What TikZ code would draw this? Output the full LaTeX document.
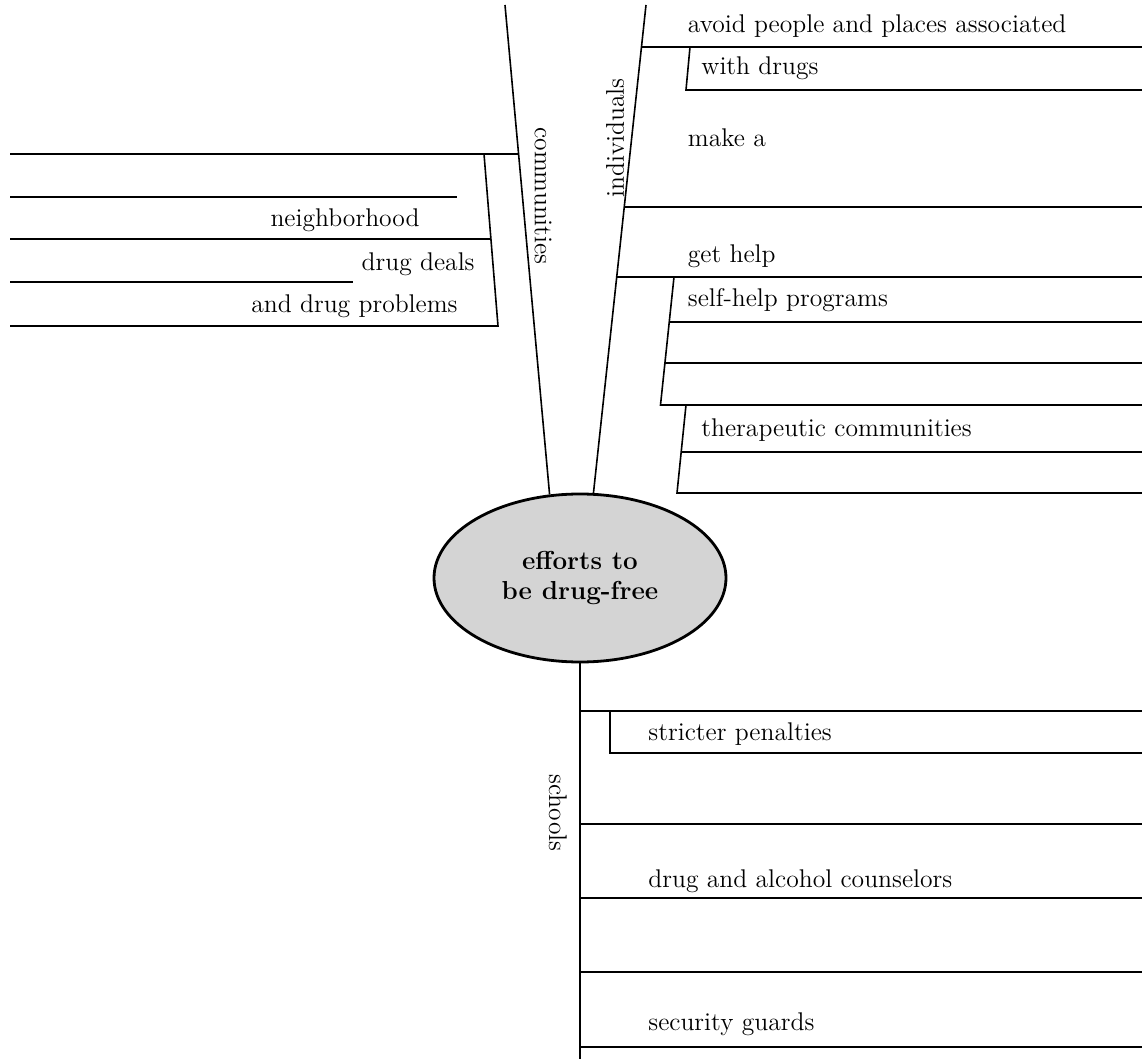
\documentclass[tikz,border=0pt]{standalone}
\usetikzlibrary{shapes.geometric}
\begin{document}
\begin{tikzpicture}[x=0.5pt,y=-0.5pt,
  ln/.style={line width=0.8pt},
  txt/.style={font=\fontsize{12.8}{15}\selectfont, inner sep=0pt},
  rtxt/.style={txt, anchor=base west},
  ltxt/.style={txt, anchor=base east},
  hubstyle/.style={ellipse, draw, line width=1.4pt, fill=black!17,
    minimum width=146pt, minimum height=84pt, inner sep=0pt, align=center,
    font=\bfseries\fontsize{13}{15}\selectfont}]
\useasboundingbox (0,0) rectangle (1142,1059);

% central ellipse
\node[hubstyle] (hub) at (580,578) {efforts to\\be drug-free};

% main spokes
\coordinate (ctop) at (505,5);
\coordinate (itop) at (646,5);
\coordinate (sbot) at (580,1059);
\draw[ln] (hub.110) -- (ctop);
\draw[ln] (hub.81) -- (itop);
\draw[ln] (hub.south) -- (sbot);

% spoke labels
\node[txt, rotate=-90] (lcom) at (543,196) {communities};
\node[txt, rotate=90] (lind) at (615,138) {individuals};
\node[txt, rotate=-90] (lsch) at (558,813) {schools};

% ---------- communities branch (left)
\coordinate (c1a) at (10,154);  \coordinate (c1b) at (518,154);
\coordinate (cbt) at (484,154); \coordinate (cbb) at (498,326);
\coordinate (c2a) at (10,197);  \coordinate (c2b) at (457,197);
\coordinate (c3a) at (10,239);  \coordinate (c3b) at (491,239);
\coordinate (c4a) at (10,282);  \coordinate (c4b) at (353,282);
\coordinate (c5a) at (10,326);
\draw[ln] (c1a) -- (c1b);
\draw[ln] (cbt) -- (cbb) -- (c5a);
\draw[ln] (c2a) -- (c2b);
\draw[ln] (c3a) -- (c3b);
\draw[ln] (c4a) -- (c4b);
\node[ltxt] (tn) at (420,227) {neighborhood};
\node[ltxt] (td) at (475,271) {drug deals};
\node[ltxt] (tp) at (458,313) {and drug problems};

% ---------- individuals branch (right)
\coordinate (i1a) at (641.4,47); \coordinate (i1b) at (1142,47);
\coordinate (wbt) at (690,47);   \coordinate (wbb) at (686,90);
\coordinate (wbr) at (1142,90);
\coordinate (i2a) at (624.1,207); \coordinate (i2b) at (1142,207);
\coordinate (i3a) at (616.5,277); \coordinate (i3b) at (1142,277);
\coordinate (sbt) at (674,277);   \coordinate (sbb) at (660.5,405);
\coordinate (sbr) at (1142,405);
\coordinate (s1a) at (669.3,322); \coordinate (s1b) at (1142,322);
\coordinate (s2a) at (664.9,363); \coordinate (s2b) at (1142,363);
\coordinate (tbt) at (686,405);   \coordinate (tbb) at (677,493);
\coordinate (tbr) at (1142,493);
\coordinate (t1a) at (681.2,452); \coordinate (t1b) at (1142,452);
\draw[ln] (i1a) -- (i1b);
\draw[ln] (wbt) -- (wbb) -- (wbr);
\draw[ln] (i2a) -- (i2b);
\draw[ln] (i3a) -- (i3b);
\draw[ln] (sbt) -- (sbb) -- (sbr);
\draw[ln] (s1a) -- (s1b);
\draw[ln] (s2a) -- (s2b);
\draw[ln] (tbt) -- (tbb) -- (tbr);
\draw[ln] (t1a) -- (t1b);
\node[rtxt] (ta) at (687.5,33) {avoid people and places associated};
\node[rtxt] (tw) at (701,75) {with drugs};
\node[rtxt] (tm) at (687.5,147) {make a};
\node[rtxt] (tg) at (687.5,263) {get help};
\node[rtxt] (ts) at (687.5,307) {self-help programs};
\node[rtxt] (tt) at (701,437) {therapeutic communities};

% ---------- schools branch (bottom)
\coordinate (k1a) at (580,711);  \coordinate (k1b) at (1142,711);
\coordinate (pbt) at (610,711);  \coordinate (pbb) at (610,753);
\coordinate (pbr) at (1142,753);
\coordinate (k2a) at (580,824);  \coordinate (k2b) at (1142,824);
\coordinate (k3a) at (580,898);  \coordinate (k3b) at (1142,898);
\coordinate (k4a) at (580,972);  \coordinate (k4b) at (1142,972);
\coordinate (k5a) at (580,1047); \coordinate (k5b) at (1142,1047);
\draw[ln] (k1a) -- (k1b);
\draw[ln] (pbt) -- (pbb) -- (pbr);
\draw[ln] (k2a) -- (k2b);
\draw[ln] (k3a) -- (k3b);
\draw[ln] (k4a) -- (k4b);
\draw[ln] (k5a) -- (k5b);
\node[rtxt] (tsp) at (648,740) {stricter penalties};
\node[rtxt] (tdc) at (648,887) {drug and alcohol counselors};
\node[rtxt] (tsg) at (648,1030) {security guards};
\end{tikzpicture}
\end{document}
